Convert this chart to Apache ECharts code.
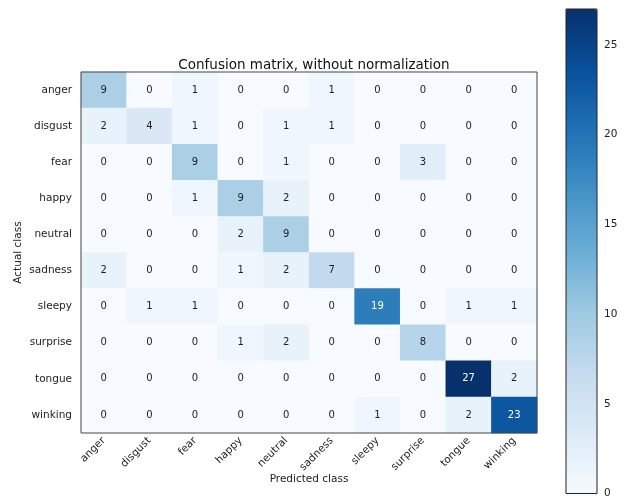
<!DOCTYPE html>
<html>
<head>
<meta charset="utf-8">
<script src="https://cdn.jsdelivr.net/npm/echarts@6/dist/echarts.min.js"></script>
<style>
  html, body { margin: 0; padding: 0; background: #fff; }
  #chart { width: 625px; height: 499px; }
</style>
</head>
<body>
<div id="chart"></div>
<script>
// class names (same for predicted and actual)
var classes = ['anger', 'disgust', 'fear', 'happy', 'neutral', 'sadness', 'sleepy', 'surprise', 'tongue', 'winking'];

// confusion matrix rows = actual class, cols = predicted class
var rowAnger    = [9, 0, 1, 0, 0, 1, 0, 0, 0, 0];
var rowDisgust  = [2, 4, 1, 0, 1, 1, 0, 0, 0, 0];
var rowFear     = [0, 0, 9, 0, 1, 0, 0, 3, 0, 0];
var rowHappy    = [0, 0, 1, 9, 2, 0, 0, 0, 0, 0];
var rowNeutral  = [0, 0, 0, 2, 9, 0, 0, 0, 0, 0];
var rowSadness  = [2, 0, 0, 1, 2, 7, 0, 0, 0, 0];
var rowSleepy   = [0, 1, 1, 0, 0, 0, 19, 0, 1, 1];
var rowSurprise = [0, 0, 0, 1, 2, 0, 0, 8, 0, 0];
var rowTongue   = [0, 0, 0, 0, 0, 0, 0, 0, 27, 2];
var rowWinking  = [0, 0, 0, 0, 0, 0, 1, 0, 2, 23];

var colorbarTicks = [0, 5, 10, 15, 20, 25];

var matrix = [rowAnger, rowDisgust, rowFear, rowHappy, rowNeutral,
              rowSadness, rowSleepy, rowSurprise, rowTongue, rowWinking];

// matplotlib "Blues"
var blues = ['#f7fbff', '#deebf7', '#c6dbef', '#9ecae1', '#6baed6',
             '#4292c6', '#2171b5', '#08519c', '#08306b'];

var vmax = 27;
var thresh = vmax / 2;
var font = 'DejaVu Sans';

var cells = [];
matrix.forEach(function (row, i) {
    row.forEach(function (v, j) {
        cells.push({
            value: [j, i, v],
            label: { color: v > thresh ? '#ffffff' : '#222222' }
        });
    });
});

var chart = echarts.init(document.getElementById('chart'));

var option = {
    animation: false,
    backgroundColor: '#ffffff',
    title: {
        text: 'Confusion matrix, without normalization',
        left: 309,
        textAlign: 'center',
        top: 53,
        textStyle: { fontFamily: font, fontSize: 13.5, fontWeight: 'normal', color: '#111' }
    },
    grid: [
        { left: 81, top: 72, width: 456, height: 361, show: true, borderColor: '#444', borderWidth: 1, z: 10, backgroundColor: 'transparent' },
        { left: 566, top: 9, width: 31, height: 487, show: true, borderColor: '#222', borderWidth: 1, z: 10, backgroundColor: 'transparent' }
    ],
    xAxis: [
        {
            type: 'category', gridIndex: 0, data: classes,
            name: 'Predicted class', nameLocation: 'middle', nameGap: 41,
            nameMoveOverlap: false,
            nameTextStyle: { fontFamily: font, fontSize: 10.5, color: '#222' },
            axisLine: { show: false },
            axisTick: { alignWithLabel: true, length: 4, lineStyle: { color: '#333' } },
            axisLabel: { rotate: 45, fontFamily: font, fontSize: 10.5, color: '#222', margin: 6, interval: 0 },
            splitLine: { show: false }
        },
        { type: 'value', gridIndex: 1, min: 0, max: 1, show: false }
    ],
    yAxis: [
        {
            type: 'category', gridIndex: 0, data: classes, inverse: true,
            name: 'Actual class', nameLocation: 'middle', nameGap: 57, nameRotate: 90,
            nameMoveOverlap: false,
            nameTextStyle: { fontFamily: font, fontSize: 10.5, color: '#222' },
            axisLine: { show: false },
            axisTick: { alignWithLabel: true, length: 4, lineStyle: { color: '#333' } },
            axisLabel: { fontFamily: font, fontSize: 10.5, color: '#222', margin: 9, interval: 0 },
            splitLine: { show: false }
        },
        {
            type: 'value', gridIndex: 1, position: 'right', min: 0, max: vmax, interval: 5,
            axisLine: { show: false },
            axisTick: { show: true, length: 4, lineStyle: { color: '#333' } },
            axisLabel: {
                fontFamily: font, fontSize: 10.5, color: '#222', margin: 7,
                formatter: function (v) { return colorbarTicks.indexOf(v) >= 0 ? String(v) : ''; }
            },
            splitLine: { show: false }
        }
    ],
    visualMap: {
        type: 'continuous',
        seriesIndex: 0,
        min: 0,
        max: vmax,
        calculable: false,
        hoverLink: false,
        orient: 'vertical',
        left: 566,
        top: 9,
        padding: 0,
        itemWidth: 31,
        itemHeight: 487,
        inRange: { color: blues }
    },
    series: [{
        type: 'heatmap',
        xAxisIndex: 0,
        yAxisIndex: 0,
        data: cells,
        label: { show: true, fontFamily: font, fontSize: 10 },
        itemStyle: { borderWidth: 0 },
        emphasis: { disabled: true }
    }]
};

chart.setOption(option);
</script>
</body>
</html>
